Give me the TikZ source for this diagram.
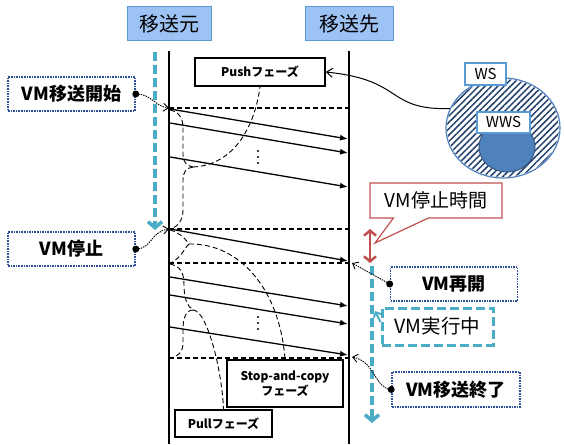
\documentclass[tikz,border=0pt]{standalone}
\usepackage{fontspec}
\setmainfont{Noto Sans CJK JP}
\usetikzlibrary{arrows.meta,patterns.meta,shapes.geometric,shapes.callouts,calc}
\definecolor{tealc}{HTML}{4BACC6}
\definecolor{hdrfill}{HTML}{9DC3F4}
\definecolor{hdrline}{HTML}{5B9BD5}
\definecolor{navyc}{HTML}{2E4F9A}
\definecolor{redc}{HTML}{C0504D}
\definecolor{wsblue}{HTML}{4F81BD}
\definecolor{hatchc}{HTML}{24406E}
\tikzset{
  hdr/.style={draw=hdrline, fill=hdrfill, line width=1pt, minimum width=84pt, minimum height=34pt, inner sep=0pt, font=\fontsize{20}{22}\selectfont},
  evt/.style={draw=navyc, densely dotted, line width=1.6pt, fill=white, minimum width=127pt, minimum height=34pt, inner sep=0pt, font=\fontsize{18}{20}\selectfont\bfseries},
  phase/.style={draw, line width=1.5pt, fill=white, inner sep=0pt, font=\fontsize{12}{15}\selectfont\bfseries, align=center},
  life/.style={line width=2.4pt},
  msg/.style={line width=1.3pt, -{Latex[length=8pt,width=6pt]}},
  bnd/.style={line width=1.4pt, dash pattern=on 5pt off 3pt},
  brc/.style={line width=0.9pt, dash pattern=on 5pt off 3pt},
  lnk/.style={line width=0.9pt, dash pattern=on 1.5pt off 1pt, -{Straight Barb[length=5pt,width=8pt]}},
  tealarrow/.style={draw=tealc, line width=3.5pt, dash pattern=on 9pt off 4pt, -{Straight Barb[length=6pt,width=14pt]}},
  smallbox/.style={draw=hdrline, line width=1.5pt, fill=white, inner sep=0pt, font=\fontsize{15}{17}\selectfont}
}
\begin{document}
\begin{tikzpicture}[x=1pt,y=-1pt]
\useasboundingbox (0,0) rectangle (564,444);

% headers
\node[hdr] (src) at (169,24) {移送元};
\node[hdr, minimum width=88pt] (dst) at (349,24) {移送先};

% lifelines
\coordinate (s0) at (169,51); \coordinate (s1) at (169,444);
\coordinate (d0) at (349,51); \coordinate (d1) at (349,444);
\draw[life] (s0) -- (s1);
\draw[life] (d0) -- (d1);

% left teal dashed arrow
\coordinate (t0) at (155,52); \coordinate (t1) at (155,230);
\draw[tealarrow] (t0) -- (t1);

% phase boundaries
\coordinate (h1a) at (169,108); \coordinate (h1b) at (349,108);
\coordinate (h2a) at (169,229); \coordinate (h2b) at (349,229);
\coordinate (h3a) at (169,263); \coordinate (h3b) at (349,263);
\coordinate (h4a) at (169,358); \coordinate (h4b) at (349,358);
\draw[bnd] (h1a) -- (h1b);
\draw[bnd] (h2a) -- (h2b);
\draw[bnd] (h3a) -- (h3b);
\draw[bnd] (h4a) -- (h4b);

% messages
\coordinate (a1s) at (170,109); \coordinate (a1e) at (348,139);
\coordinate (a2s) at (170,123); \coordinate (a2e) at (348,153);
\coordinate (a3s) at (170,157); \coordinate (a3e) at (348,187);
\coordinate (b0s) at (170,229); \coordinate (b0e) at (348,261);
\coordinate (b1s) at (170,277); \coordinate (b1e) at (348,306);
\coordinate (b2s) at (170,295); \coordinate (b2e) at (348,324);
\coordinate (b3s) at (170,327); \coordinate (b3e) at (348,355);
\foreach \m in {a1,a2,a3,b0,b1,b2,b3} \draw[msg] (\m s) -- (\m e);

% vertical dots
\foreach \y in {151,157,163} \fill (258,\y) circle (1.2pt);
\foreach \y in {317,323,329} \fill (258,\y) circle (1.2pt);

% phase labels
\node[phase, minimum width=130pt, minimum height=28pt] (push) at (260,72) {Pushフェーズ};
\node[phase, minimum width=116pt, minimum height=47pt] (sc) at (285,383.5) {Stop-and-copy\\フェーズ};
\node[phase, minimum width=97pt, minimum height=27pt] (pull) at (223.5,423.5) {Pullフェーズ};

% push brace
\coordinate (pt) at (193,167);
\draw[brc] (170,110) .. controls (179,112) and (183,118) .. (183,128) -- (183,155) .. controls (183,162) and (187,166) .. (pt);
\draw[brc] (pt) .. controls (186,168) and (183,172) .. (183,180) -- (183,210) .. controls (183,220) and (178,227) .. (170,229);
\draw[brc] (pt) .. controls (235,165) and (255,125) .. (push.south);

% stop-and-copy brace
\coordinate (st) at (189,244);
\draw[brc] (170,230) .. controls (178,232) and (184,237) .. (st);
\draw[brc] (st) .. controls (184,248) and (183,256) .. (171,263);
\draw[brc] (st) .. controls (240,243) and (280,290) .. (sc.north);

% pull brace
\coordinate (pl) at (193,310);
\draw[brc] (170,264) .. controls (180,266) and (184,272) .. (184,285) .. controls (184,298) and (187,306) .. (pl);
\draw[brc] (pl) .. controls (185,310) and (183,320) .. (183,330) -- (183,343) .. controls (183,352) and (178,357) .. (170,358);
\draw[brc] (pl) .. controls (207,310) and (222,370) .. (pull.north);

% WS / WWS
\node[ellipse, draw=wsblue, line width=1.2pt, fill=white, minimum width=114pt, minimum height=100pt, inner sep=0pt] (wsell) at (503,128) {};
\fill[pattern={Lines[angle=45,distance=4.5pt,line width=1.5pt]}, pattern color=hatchc] (503,128) ellipse [x radius=56pt, y radius=49pt];
\node[ellipse, draw=wsblue!70!black, line width=1pt, fill=wsblue, minimum width=56pt, minimum height=50pt, inner sep=0pt] (wwsell) at (507,147) {};
\node[smallbox, minimum width=41pt, minimum height=22pt] (ws) at (485.5,74) {WS};
\node[smallbox, minimum width=53pt, minimum height=21pt] (wws) at (503.5,122.5) {WWS};
\draw[line width=1pt, -{Straight Barb[length=6pt,width=9pt]}] (wsell.160) .. controls (385,110) and (405,80) .. (push.east);

% event labels (left)
\node[evt] (start) at (71.5,94) {VM移送開始};
\node[evt] (stop) at (71.5,249) {VM停止};
\fill (start.east) circle (3.5pt);
\fill (stop.east) circle (3.5pt);
\draw[lnk] (start.east) .. controls (152,94) and (154,106) .. (h1a);
\draw[lnk] (stop.east) .. controls (152,249) and (150,232) .. (h2a);

% right side
\node[rectangle callout, draw=redc, line width=1.2pt, fill=white, minimum width=132pt, minimum height=35pt, inner sep=0pt,
      callout absolute pointer={(375,243)}, callout pointer width=35pt, font=\fontsize{19}{21}\selectfont] (dt) at (436,200.5) {VM停止時間};
\coordinate (r0) at (370,229); \coordinate (r1) at (370,263);
\draw[redc, line width=2.5pt, {Straight Barb[length=5pt,width=12pt]}-{Straight Barb[length=5pt,width=12pt]}] (r0) -- (r1);

\coordinate (t2) at (372,266); \coordinate (t3) at (372,423);
\draw[tealarrow] (t2) -- (t3);

\node[evt] (resume) at (454,284) {VM再開};
\node[draw=tealc, line width=3pt, dash pattern=on 9pt off 4pt, fill=white, minimum width=111pt, minimum height=37pt, inner sep=0pt, font=\fontsize{19.5}{21}\selectfont] (run) at (437.5,326.5) {VM実行中};
\coordinate (runp) at (375,311);
\draw[tealc, line width=2pt, -{Straight Barb[length=4pt,width=8pt]}] (run.west |- 0,322) -- (runp);
\node[evt, minimum width=128pt, minimum height=35pt] (fin) at (456,389.5) {VM移送終了};
\fill (resume.west) circle (3.5pt);
\fill (fin.west) circle (3.5pt);
\coordinate (re) at (352,263);
\coordinate (fe) at (352,357);
\draw[lnk] (resume.west) -- (re);
\draw[lnk] (fin.west) .. controls (374,388) and (376,362) .. (fe);
\end{tikzpicture}
\end{document}
